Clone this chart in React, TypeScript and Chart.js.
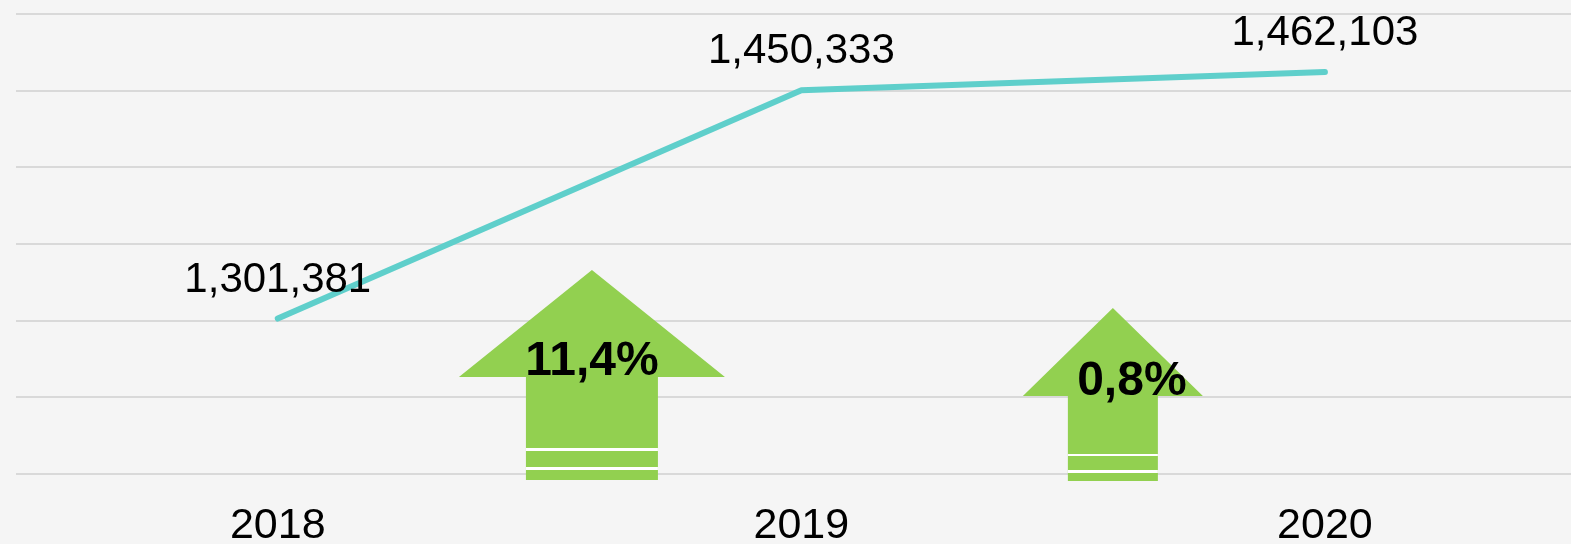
import React, { useEffect, useRef } from 'react';
import { Chart, registerables } from 'chart.js';

Chart.register(...registerables);

// ---- data ----
const categories = ['2018', '2019', '2020'];
const totals = [1301381, 1450333, 1462103];
const changeLabels = ['11,4%', '0,8%'];
const yMin = 1200000;
const yMax = 1500000;
const yStep = 50000;

const FONT = '"Liberation Sans", Arial, sans-serif';
const LINE_COLOR = '#5fcfcb';
const ARROW_COLOR = '#92d050';
const BG = '#f5f5f5';

// decorative arrows, placed on the x scale (between categories) and relative to chart bottom
const arrowShapes = [
  { at: 0.6, tip: -204, head: -97, bottom: 6, headW: 266, shaftW: 132, stripes: [[-26, -23], [-7, -4]], labelDx: 0, labelBase: -99 },
  { at: 1.595, tip: -166, head: -78, bottom: 7, headW: 180, shaftW: 90, stripes: [[-20, -18], [-4, -1]], labelDx: 19, labelBase: -79 },
];

const bgPlugin = {
  id: 'bg',
  beforeDraw(chart: any) {
    const { ctx, width, height } = chart;
    ctx.save();
    ctx.fillStyle = BG;
    ctx.fillRect(0, 0, width, height);
    ctx.restore();
  },
};

const arrowPlugin = {
  id: 'arrows',
  beforeDatasetsDraw(chart: any) {
    const { ctx, chartArea } = chart;
    const xs = chart.scales.x;
    const b = chartArea.bottom;
    arrowShapes.forEach((a, i) => {
      const cx = xs.getPixelForValue(a.at);
      ctx.save();
      ctx.fillStyle = ARROW_COLOR;
      ctx.beginPath();
      ctx.moveTo(cx, b + a.tip);
      ctx.lineTo(cx + a.headW / 2, b + a.head);
      ctx.lineTo(cx + a.shaftW / 2, b + a.head);
      ctx.lineTo(cx + a.shaftW / 2, b + a.bottom);
      ctx.lineTo(cx - a.shaftW / 2, b + a.bottom);
      ctx.lineTo(cx - a.shaftW / 2, b + a.head);
      ctx.lineTo(cx - a.headW / 2, b + a.head);
      ctx.closePath();
      ctx.fill();
      ctx.fillStyle = '#ffffff';
      a.stripes.forEach(([s, e]) => {
        ctx.fillRect(cx - a.shaftW / 2, b + s, a.shaftW, e - s);
      });
      ctx.fillStyle = '#000000';
      ctx.font = `bold 48px ${FONT}`;
      ctx.textAlign = 'center';
      ctx.textBaseline = 'alphabetic';
      ctx.fillText(changeLabels[i], cx + a.labelDx, b + a.labelBase);
      ctx.restore();
    });
  },
};

const valueLabelPlugin = {
  id: 'valueLabels',
  afterDatasetsDraw(chart: any) {
    const { ctx } = chart;
    const meta = chart.getDatasetMeta(0);
    ctx.save();
    ctx.fillStyle = '#000000';
    ctx.font = `42px ${FONT}`;
    ctx.textAlign = 'center';
    ctx.textBaseline = 'alphabetic';
    meta.data.forEach((pt: any, i: number) => {
      ctx.fillText(totals[i].toLocaleString('en-US'), pt.x, pt.y - 27);
    });
    ctx.restore();
  },
};

export default function App() {
  const ref = useRef<HTMLCanvasElement>(null);

  useEffect(() => {
    if (!ref.current) return;
    const chart = new Chart(ref.current, {
      type: 'line',
      data: {
        datasets: [
          {
            data: totals.map((v, i) => ({ x: i, y: v })),
            borderColor: LINE_COLOR,
            borderWidth: 6,
            borderCapStyle: 'round',
            borderJoinStyle: 'round',
            pointRadius: 0,
            tension: 0,
            fill: false,
          },
        ],
      },
      options: {
        responsive: false,
        animation: false,
        layout: { padding: { left: 16, right: 0, top: 14, bottom: 0 } },
        plugins: { legend: { display: false }, tooltip: { enabled: false } },
        scales: {
          x: {
            type: 'linear',
            min: -0.5,
            max: 2.47,
            grid: { display: false, drawTicks: false },
            border: { display: false },
            afterBuildTicks: (s: any) => {
              s.ticks = categories.map((_, i) => ({ value: i }));
            },
            afterFit: (s: any) => {
              s.height = 70;
            },
            ticks: {
              callback: (v: any) => categories[v] ?? '',
              font: { family: FONT, size: 43 },
              color: '#000000',
              padding: 26,
              maxRotation: 0,
              autoSkip: false,
            },
          },
          y: {
            min: yMin,
            max: yMax,
            ticks: { display: false, stepSize: yStep },
            grid: { color: '#d9d9d9', lineWidth: 2, drawTicks: false },
            border: { display: false },
            afterFit: (s: any) => {
              s.width = 0;
            },
          },
        },
      },
      plugins: [bgPlugin, arrowPlugin, valueLabelPlugin],
    } as any);
    return () => chart.destroy();
  }, []);

  return (
    <div style={{ position: 'fixed', left: 0, top: 0, width: 1571, height: 544, overflow: 'hidden', background: BG }}>
      <canvas ref={ref} width={1571} height={544} style={{ display: 'block', width: 1571, height: 544 }} />
    </div>
  );
}
